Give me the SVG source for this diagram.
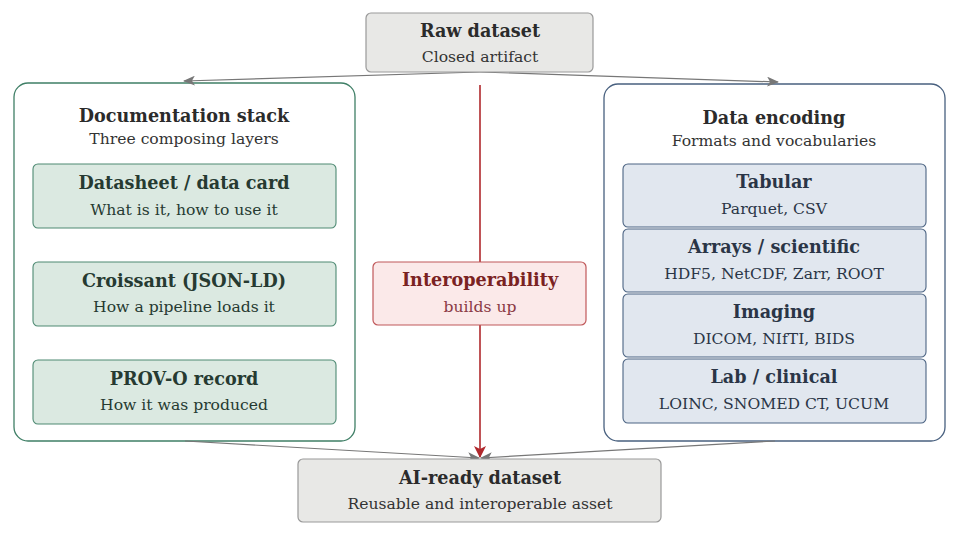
<svg xmlns="http://www.w3.org/2000/svg" width="957" height="539" viewBox="0 0 957 539">
<defs>
<marker id="ag" viewBox="0 0 12 10" refX="11" refY="5" markerWidth="12" markerHeight="10" markerUnits="userSpaceOnUse" orient="auto">
<path d="M0,0 L12,5 L0,10 L3,5 z" fill="#777"/>
</marker>
<marker id="ar" viewBox="0 0 12 12" refX="11" refY="6" markerWidth="12" markerHeight="12" markerUnits="userSpaceOnUse" orient="auto">
<path d="M0,0 L12,6 L0,12 L3,6 z" fill="#b0282c"/>
</marker>
</defs>
<style>
text{font-family:"DejaVu Serif","Liberation Serif",serif;text-anchor:middle;}
.t{font-weight:bold;font-size:17.6px;fill:#2b2b2b;}
.s{font-size:15.6px;fill:#333;}
.gray{fill:#e8e8e6;stroke:#999;stroke-width:1.2;}
.cg{fill:#fff;stroke:#3f7f66;stroke-width:1.3;}
.cb{fill:#fff;stroke:#48607f;stroke-width:1.3;}
.ng{fill:#dbe9e1;stroke:#4e8a73;stroke-width:1.1;}
.nb{fill:#e1e7ef;stroke:#4c6483;stroke-width:1.1;}
.gt{fill:#263a31;}
.bt{fill:#2a3546;}
.ir{fill:#fbe9e9;stroke:#c0585a;stroke-width:1.2;}
.c{fill:none;stroke:#777;stroke-width:1.2;}
</style>
<g id="doc-stack">
<rect class="cg" x="14" y="83" width="341" height="358" rx="14"/>
<text class="t" x="184" y="122">Documentation stack</text>
<text class="s" x="184" y="144">Three composing layers</text>
</g>
<g id="data-encoding">
<rect class="cb" x="604" y="84" width="341" height="357" rx="14"/>
<text class="t" x="774" y="124">Data encoding</text>
<text class="s" x="774" y="146">Formats and vocabularies</text>
</g>
<g id="connectors">
<path class="c" d="M480,72 L184,81" marker-end="url(#ag)"/>
<path class="c" d="M480,72 L778,82" marker-end="url(#ag)"/>
<path class="c" d="M185,441 L479,458" marker-end="url(#ag)"/>
<path class="c" d="M775,441 L481,458" marker-end="url(#ag)"/>
<path d="M480,85 L480,457" stroke="#b0282c" stroke-width="1.6" fill="none" marker-end="url(#ar)"/>
</g>
<g id="raw">
<rect class="gray" x="366" y="13" width="227" height="59" rx="5"/>
<text class="t" x="480" y="37">Raw dataset</text>
<text class="s" x="480" y="62">Closed artifact</text>
</g>
<g id="datasheet">
<rect class="ng" x="33" y="164" width="303" height="64" rx="5"/>
<text class="t gt" x="184" y="189">Datasheet / data card</text>
<text class="s gt" x="184" y="215">What is it, how to use it</text>
</g>
<g id="croissant">
<rect class="ng" x="33" y="262" width="303" height="64" rx="5"/>
<text class="t gt" x="184" y="287">Croissant (JSON-LD)</text>
<text class="s gt" x="184" y="312">How a pipeline loads it</text>
</g>
<g id="provo">
<rect class="ng" x="33" y="360" width="303" height="64" rx="5"/>
<text class="t gt" x="184" y="385">PROV-O record</text>
<text class="s gt" x="184" y="410">How it was produced</text>
</g>
<g id="tabular">
<rect class="nb" x="623" y="164" width="303" height="63" rx="5"/>
<text class="t bt" x="774" y="188">Tabular</text>
<text class="s bt" x="774" y="214">Parquet, CSV</text>
</g>
<g id="arrays">
<rect class="nb" x="623" y="229" width="303" height="63" rx="5"/>
<text class="t bt" x="774" y="253">Arrays / scientific</text>
<text class="s bt" x="774" y="279">HDF5, NetCDF, Zarr, ROOT</text>
</g>
<g id="imaging">
<rect class="nb" x="623" y="294" width="303" height="63" rx="5"/>
<text class="t bt" x="774" y="318">Imaging</text>
<text class="s bt" x="774" y="344">DICOM, NIfTI, BIDS</text>
</g>
<g id="lab">
<rect class="nb" x="623" y="359" width="303" height="64" rx="5"/>
<text class="t bt" x="774" y="383">Lab / clinical</text>
<text class="s bt" x="774" y="409">LOINC, SNOMED CT, UCUM</text>
</g>
<g id="interop">
<rect class="ir" x="373" y="262" width="213" height="63" rx="5"/>
<text class="t" x="480" y="286" style="fill:#7a2222">Interoperability</text>
<text class="s" x="480" y="312" style="fill:#8a3a44">builds up</text>
</g>
<g id="ai-ready">
<rect class="gray" x="298" y="459" width="363" height="63" rx="5"/>
<text class="t" x="480" y="484">AI-ready dataset</text>
<text class="s" x="480" y="509">Reusable and interoperable asset</text>
</g>
</svg>
